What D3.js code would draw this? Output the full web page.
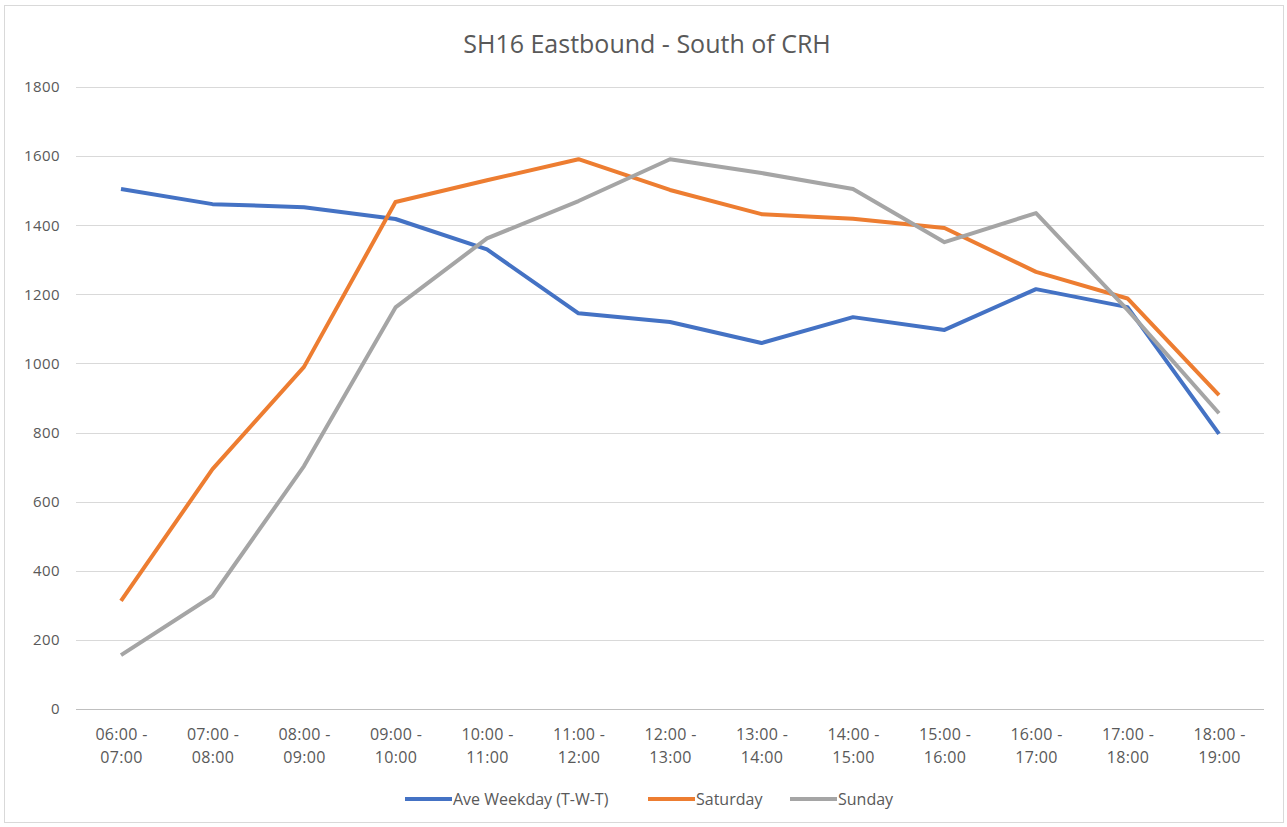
<html>
<head>
  <script src="https://d3js.org/d3.v7.min.js"></script>
  <style>
    body { margin: 0; background: #fff; }
    text { font-family: "Open Sans", Lato, sans-serif; fill: #595959; }
  </style>
</head>
<body>
  <div id="plot"></div>
  <script>
    // data
    var hours = ["06:00 -|07:00", "07:00 -|08:00", "08:00 -|09:00", "09:00 -|10:00",
                 "10:00 -|11:00", "11:00 -|12:00", "12:00 -|13:00", "13:00 -|14:00",
                 "14:00 -|15:00", "15:00 -|16:00", "16:00 -|17:00", "17:00 -|18:00",
                 "18:00 -|19:00"];
    var weekday = [1505, 1461, 1452, 1418, 1330, 1145, 1120, 1059, 1134, 1097, 1215, 1163, 796];
    var saturday = [313, 694, 990, 1467, 1530, 1591, 1502, 1432, 1419, 1392, 1265, 1188, 908];
    var sunday = [156, 327, 703, 1162, 1362, 1470, 1591, 1551, 1505, 1351, 1435, 1155, 856];
    var yTicks = [0, 200, 400, 600, 800, 1000, 1200, 1400, 1600, 1800];

    var series = [
      {name: "Ave Weekday (T-W-T)", values: weekday, color: "#4472C4"},
      {name: "Saturday", values: saturday, color: "#ED7D31"},
      {name: "Sunday", values: sunday, color: "#A5A5A5"}
    ];

    var W = 1287, H = 827;
    var svg = d3.select("#plot").append("svg")
      .attr("width", W)
      .attr("height", H);

    // chart border
    svg.append("rect")
      .attr("x", 4.5).attr("y", 5.5)
      .attr("width", W - 8).attr("height", H - 10)
      .attr("fill", "#fff")
      .attr("stroke", "#d9d9d9");

    var x = d3.scalePoint().domain(hours).range([121, 1219]);
    var y = d3.scaleLinear().domain([0, 1800]).range([709, 87]);

    // gridlines
    svg.append("g").selectAll("line")
      .data(yTicks)
      .enter().append("line")
      .attr("x1", 76).attr("x2", 1264)
      .attr("y1", function(d) { return Math.round(y(d)) + 0.5; })
      .attr("y2", function(d) { return Math.round(y(d)) + 0.5; })
      .attr("stroke", function(d) { return d == 0 ? "#bfbfbf" : "#d9d9d9"; })
      .attr("stroke-width", 1);

    // y axis
    var yAxis = d3.axisLeft(y).tickValues(yTicks).tickSize(0).tickPadding(0)
      .tickFormat(d3.format("d"));
    var gy = svg.append("g")
      .attr("transform", "translate(60,0)")
      .call(yAxis);
    gy.select(".domain").remove();
    gy.selectAll("text")
      .style("font-size", "15px")
      .style("font-family", "'Open Sans', sans-serif")
      .style("letter-spacing", "0.4px")
      .attr("fill", "#595959");

    // x axis, two-line labels
    var xAxis = d3.axisBottom(x).tickSize(0).tickFormat(function() { return ""; });
    var gx = svg.append("g")
      .attr("transform", "translate(0,709)")
      .call(xAxis);
    gx.select(".domain").remove();
    gx.selectAll(".tick").each(function(d) {
      var parts = d.split("|");
      var t = d3.select(this).append("text")
        .attr("text-anchor", "middle")
        .style("font-size", "16px")
        .style("letter-spacing", "0.3px")
        .attr("fill", "#595959");
      t.append("tspan").attr("x", 0).attr("y", 31).text(parts[0]);
      t.append("tspan").attr("x", 0).attr("y", 54).text(parts[1]);
    });

    // lines
    var line = d3.line()
      .x(function(d, i) { return x(hours[i]); })
      .y(function(d) { return y(d); });

    svg.append("g").selectAll("path")
      .data(series)
      .enter().append("path")
      .attr("d", function(s) { return line(s.values); })
      .attr("fill", "none")
      .attr("stroke", function(s) { return s.color; })
      .attr("stroke-width", 4)
      .attr("stroke-linejoin", "round");

    // title
    svg.append("text")
      .attr("x", 647).attr("y", 53)
      .attr("text-anchor", "middle")
      .style("font-size", "25px")
      .text("SH16 Eastbound - South of CRH");

    // legend
    var legendX = [405, 648, 790];
    var lg = svg.append("g").selectAll("g")
      .data(series)
      .enter().append("g")
      .attr("transform", function(s, i) { return "translate(" + legendX[i] + ",799)"; });
    lg.append("line")
      .attr("x1", 0).attr("x2", 47)
      .attr("stroke", function(s) { return s.color; })
      .attr("stroke-width", 4);
    lg.append("text")
      .attr("x", 48).attr("y", 6)
      .style("font-size", "16px")
      .text(function(s) { return s.name; });
  </script>
</body>
</html>
